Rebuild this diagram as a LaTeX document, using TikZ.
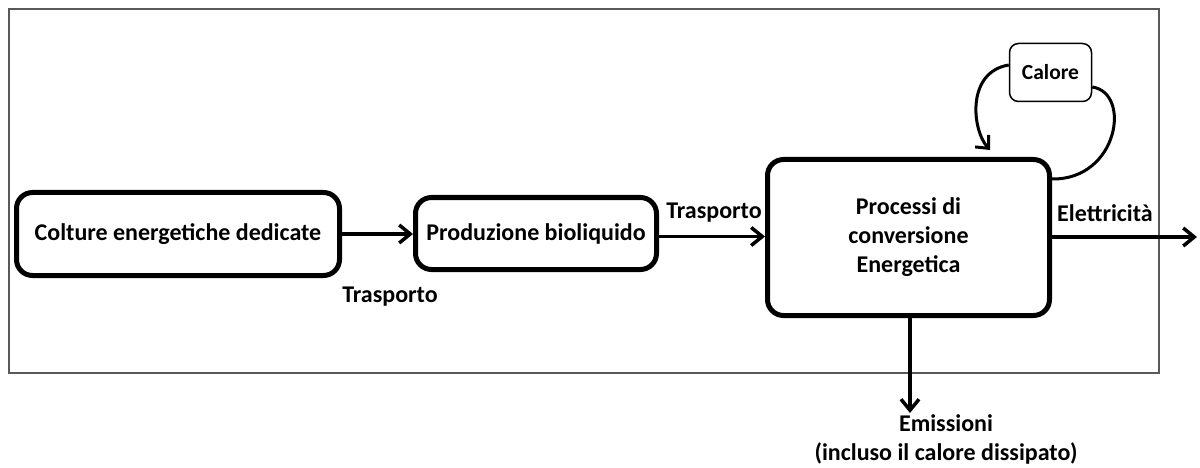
\documentclass[tikz,border=0pt]{standalone}
\usepackage{fontspec}
\setmainfont{Carlito}
\usetikzlibrary{arrows.meta,calc}
\begin{document}
\begin{tikzpicture}[x=1pt,y=-1pt,
  txt/.style={font=\fontsize{24}{29}\selectfont\bfseries},
  bigbox/.style={draw,line width=5pt,rounded corners=16pt,txt,align=center,inner sep=0pt},
  lbl/.style={txt,inner sep=0pt,align=center},
  smallbox/.style={draw,line width=1.5pt,rounded corners=9pt,fill=white,font=\fontsize{21.5}{25}\selectfont\bfseries,inner sep=0pt,minimum width=82pt,minimum height=58pt},
  flow/.style={line width=3.5pt,-{Straight Barb[length=11pt,width=18pt]}},
  loopline/.style={line width=3pt}]
\useasboundingbox (0,0) rectangle (1200,468);
\draw[line width=2pt, black!65] (8.5,9.5) rectangle (1159,373);
\node[bigbox,minimum width=323pt,minimum height=83pt] (b1) at (178,234) {Colture energetiche dedicate};
\node[bigbox,minimum width=241pt,minimum height=72pt] (b2) at (536,233.5) {Produzione bioliquido};
\node[bigbox,minimum width=282pt,minimum height=156pt] (b3) at (908.5,237.5) {Processi di\\conversione\\Energetica};
\node[smallbox] (cal) at (1050.5,72.5) {Calore};
\node[lbl] (t1) at (390,297) {Trasporto};
\node[lbl] (t2) at (714,213) {Trasporto};
\node[lbl] (el) at (1105,213) {Elettricità};
\node[lbl] (em) at (946,439) {Emissioni\\(incluso il calore dissipato)};
% flows
\draw[flow] (b1.east) -- (b2.west |- b1.east);
\coordinate (a2) at ([yshift=-3pt]b2.east);
\draw[flow] (a2) -- (a2 -| b3.west);
\coordinate (elend) at (1197,237);
\draw[flow] (b3.east |- elend) -- (elend);
\coordinate (emend) at (910,413);
\draw[flow] (b3.south -| emend) -- (emend);
% heat loop
\coordinate (lt) at ($(b3.north)+(81.5,-7)$);
\draw[loopline,-{Straight Barb[length=10pt,width=18pt]}] ([yshift=7.5pt]cal.west) .. controls (966,72) and (972,130) .. (lt);
\coordinate (rt) at ($(b3.north east)+(0,22)$);
\draw[loopline] ([yshift=-14.5pt]cal.east) .. controls (1132,93) and (1118,180) .. (rt);
\end{tikzpicture}
\end{document}
